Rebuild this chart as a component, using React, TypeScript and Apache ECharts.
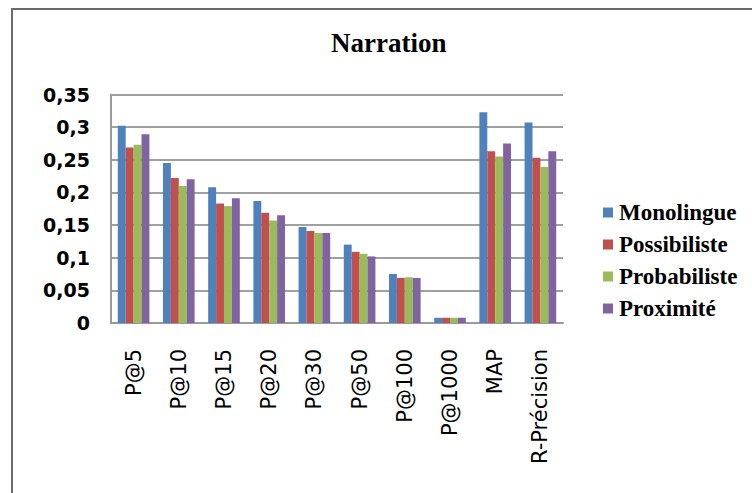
import React, { useEffect, useRef } from "react";
import * as echarts from "echarts";

const categories = ["P@5", "P@10", "P@15", "P@20", "P@30", "P@50", "P@100", "P@1000", "MAP", "R-Précision"];
const monolingue = [0.302, 0.245, 0.208, 0.187, 0.147, 0.120, 0.075, 0.008, 0.323, 0.307];
const possibiliste = [0.269, 0.222, 0.183, 0.169, 0.141, 0.109, 0.069, 0.008, 0.263, 0.253];
const probabiliste = [0.273, 0.210, 0.179, 0.157, 0.138, 0.106, 0.070, 0.008, 0.255, 0.239];
const proximite = [0.289, 0.220, 0.191, 0.165, 0.138, 0.102, 0.069, 0.008, 0.275, 0.263];
const seriesNames = ["Monolingue", "Possibiliste", "Probabiliste", "Proximité"];
const colors = ["#4F81BD", "#C0504D", "#9BBB59", "#8064A2"];

export default function App() {
  const ref = useRef<HTMLDivElement>(null);
  useEffect(() => {
    if (!ref.current) return;
    const chart = echarts.init(ref.current, null, { renderer: "svg" });
    const data = [monolingue, possibiliste, probabiliste, proximite];
    chart.setOption({
      animation: false,
      backgroundColor: "#ffffff",
      color: colors,
      title: {
        text: "Narration",
        left: 331,
        top: 29,
        padding: 0,
        textStyle: { fontFamily: "Liberation Serif", fontWeight: "bold", fontSize: 27, color: "#000" },
      },
      graphic: [
        {
          type: "rect",
          shape: { x: 12, y: 9, width: 800, height: 600 },
          style: { fill: "none", stroke: "#6a6a6a", lineWidth: 2 },
          silent: true,
        },
      ],
      legend: {
        orient: "vertical",
        left: 603,
        top: 201,
        itemWidth: 10,
        itemHeight: 10,
        itemGap: 9,
        icon: "rect",
        padding: 0,
        data: seriesNames,
        textStyle: { fontFamily: "Liberation Serif", fontWeight: "bold", fontSize: 23, color: "#000", padding: [0, 0, 0, 1] },
      },
      grid: { left: 111, right: 189, top: 94.5, bottom: 170, containLabel: false },
      xAxis: {
        type: "category",
        data: categories,
        axisLine: { show: true, lineStyle: { color: "#9a9a9a", width: 2 } },
        axisTick: { show: false },
        axisLabel: {
          rotate: 90,
          margin: 26,
          fontFamily: "DejaVu Sans",
          fontSize: 21,
          color: "#000",
        },
      },
      yAxis: {
        type: "value",
        min: 0,
        max: 0.35,
        interval: 0.05,
        axisLine: { show: true, lineStyle: { color: "#9a9a9a", width: 2 } },
        axisTick: { show: false },
        splitLine: { show: true, lineStyle: { color: "#a0a0a0", width: 2 } },
        axisLabel: {
          margin: 21,
          fontFamily: "DejaVu Sans",
          fontWeight: "bold",
          fontSize: 19,
          color: "#000",
          formatter: (v: number) => String(parseFloat(v.toFixed(2))).replace(".", ","),
        },
      },
      series: seriesNames.map((name, i) => ({
        name,
        type: "bar",
        data: data[i],
        barGap: "0%",
        barCategoryGap: "30%",
        itemStyle: { color: colors[i] },
      })),
    });
    return () => chart.dispose();
  }, []);
  return <div ref={ref} style={{ position: "fixed", left: 0, top: 0, width: 752, height: 493 }} />;
}
